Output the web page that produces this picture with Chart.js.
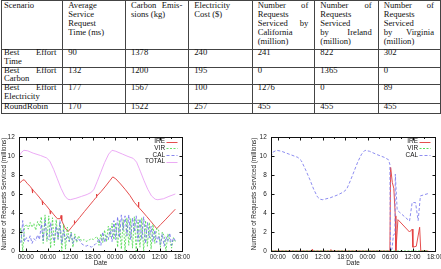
<!DOCTYPE html>
<html><head><meta charset="utf-8">
<script src="https://cdn.jsdelivr.net/npm/chart.js@4.4.0/dist/chart.umd.min.js"></script>
<style>
html,body{margin:0;padding:0;background:#fff;width:441px;height:269px;overflow:hidden;}
#tbl{position:absolute;left:0;top:0;width:441px;height:115px;font-family:"Liberation Serif",serif;font-size:8.6px;color:#111;}
.hl{position:absolute;height:1px;background:#444;}
.vl{position:absolute;width:1px;background:#444;}
.cell{position:absolute;}
.cell div{white-space:nowrap;}
.cell div.j{text-align:justify;text-align-last:justify;}
.wrap{position:absolute;width:220px;height:153px;}
canvas{display:block;}
</style></head><body>
<div id="tbl"></div>
<div class="wrap" style="left:0;top:116px;"><canvas id="c1" width="220" height="153"></canvas></div>
<div class="wrap" style="left:221px;top:116px;"><canvas id="c2" width="220" height="153"></canvas></div>
<script>
// ---------- table data ----------
const tableHeader = [
  ["Scenario"],
  ["Average","Service","Request","Time (ms)"],
  ["Carbon Emis-","sions (kg)"],
  ["Electricity","Cost ($)"],
  ["Number of","Requests","Serviced by","California","(million)"],
  ["Number of","Requests","Serviced","by Ireland","(million)"],
  ["Number of","Requests","Serviced","by Virginia","(million)"]
];
const scenarioNames = [["Best Effort","Time"],["Best Effort","Carbon"],["Best Effort","Electricity"],["RoundRobin"]];
const avgTime      = [90, 132, 177, 170];
const carbonKg     = [1378, 1200, 1567, 1522];
const elecCost     = [240, 195, 100, 257];
const reqCalifornia= [241, 0, 1276, 455];
const reqIreland   = [822, 1365, 0, 455];
const reqVirginia  = [302, 0, 89, 455];
const justified = ["Best Effort","Number of","Carbon Emis-","Serviced by","by Ireland","by Virginia"];

// ---------- chart data (hours from 00:00 of day 1) ----------
const xTickLabels = ["00:00","06:00","12:00","18:00","00:00","06:00","12:00","18:00"];
const xTickHours  = [0, 6, 12, 18, 24, 30, 36, 42];

const ireHoursL = [-1.8,-0.8,-0.4,0.5,1.2,1.7,1.8,1.9,2.8,3.6,4.4,4.5,4.6,5.5,6.5,6.6,6.7,7.6,8.5,9.3,9.5,9.7,10.5,11.4,12.2,13.0,13.1,13.25,14.5,15.8,17.0,18.2,18.9,19.0,19.15,20.3,21.5,22.6,23.4,24.2,25.5,26.8,28.0,29.2,30.2,30.3,30.4,31.5,32.5,33.5,34.4,35.2,36.3,37.5,38.8,40.2];
const ireValuesL= [7.1,7.45,7.5,7.08,6.8,6.53,6.1,6.45,6.05,5.68,5.28,4.85,5.2,4.8,4.3,3.9,4.25,3.8,3.4,3.4,3.75,3.2,2.47,2.05,2.43,2.82,3.2,2.92,3.53,4.16,4.73,5.3,5.64,6.0,5.76,6.27,6.84,7.4,7.8,7.6,7.05,6.45,5.85,5.12,4.66,5.15,4.6,4.1,3.64,3.18,2.75,2.35,2.8,3.28,3.82,4.4];

const sampleHours = [-1.8,-1.3,-0.8,-0.3,0.2,0.7,1.2,1.7,2.2,2.7,3.2,3.7,4.2,4.7,5.2,5.7,6.2,6.7,7.2,7.7,8.2,8.7,9.2,9.7,10.2,10.7,11.2,11.7,12.2,12.7,13.2,13.7,14.2,14.7,15.2,15.7,16.2,16.7,17.2,17.7,18.2,18.7,19.2,19.7,20.2,20.7,21.2,21.7,22.2,22.7,23.2,23.7,24.2,24.7,25.2,25.7,26.2,26.7,27.2,27.7,28.2,28.7,29.2,29.7,30.2,30.7,31.2,31.7,32.2,32.7,33.2,33.7,34.2,34.7,35.2,35.7,36.2,36.7,37.2,37.7,38.2,38.7,39.2,39.7,40.2];
const virValuesL = [1.5,2.4,0.0,2.6, 2.8,2.3,3.0,2.5,2.9,2.2,3.1,2.6, 3.6,0.8,3.8,1.0,3.7,0.3,3.5,0.6,3.3,1.2,3.0,0.0,2.8,0.2,2.5, 1.0,2.0,0.4,1.8,0.9,1.6,1.2, 1.1,1.2,1.0,1.1,1.2,1.3,1.2,1.4,1.5, 0.6,1.8,0.9,2.2,1.0,2.6,1.5,2.9, 1.2,3.0,0.4,3.2,0.2,3.3,0.0,3.5,0.6,3.4,0.3,3.6,0.0,3.3, 0.4,3.5,0.0,3.2,0.5,3.0,0.2,2.8,0.8,2.4, 2.2,0.4,2.0,1.6,0.0,1.8,1.2,0.3,1.4,1.0];
const calValuesL = [1.2,0.8,3.2,1.0, 1.4,1.0,1.6,0.8,1.3,1.1,1.7,1.2, 2.8,1.1,3.3,1.4,1.2,3.0,1.5,1.0,2.6,1.3,3.2,0.8,2.2,1.2,1.6, 1.0,1.9,0.8,1.5,1.1,1.3,1.0, 0.7,0.6,0.5,0.6,0.5,0.4,0.6,0.7,0.9, 1.3,0.6,2.0,0.9,1.6,1.2,2.4,1.0, 3.2,1.2,3.6,1.4,3.8,2.2,3.7,1.6,3.8,1.2,3.5,2.0,3.7,1.0, 3.4,1.2,3.6,0.8,3.0,1.4,2.6,1.0,2.2,0.9, 1.6,0.7,1.8,0.5,1.5,1.0,1.9,0.6,1.4,1.1];

const totalHoursL  = [-1.8,-1.2,-0.5,0.5,2.0,4.0,5.6,6.5,7.5,8.5,9.5,10.5,11.3,12.0,13.5,15.0,16.5,17.5,18.3,19.2,20.2,21.2,22.3,23.2,24.2,26.0,27.5,28.9,29.8,30.8,31.8,32.8,33.8,34.8,35.5,37.0,38.5,40.2];
const totalValuesL = [9.95,10.35,10.6,10.55,10.3,10.05,9.8,9.45,8.6,7.6,6.6,5.8,5.45,5.4,5.55,5.75,5.95,6.15,6.45,7.3,8.3,9.3,10.2,10.6,10.5,10.2,9.95,9.75,9.35,8.4,7.4,6.5,5.8,5.45,5.4,5.5,5.75,6.0];

const ireHoursR  = [-1.8,9.1,9.2,9.3,14.1,14.2,14.3,29.95,30.15,30.6,31.0,31.4,31.55,32.1,35.2,35.9,36.1,37.0,37.9,38.2,40.2];
const ireValuesR = [0,0,0.15,0,0,0.15,0,0,8.8,7.2,6.6,3.7,0,3.3,2.0,2.3,0.4,0.5,2.5,0,0];
const virHoursR  = [-1.8,40.2];
const virValuesR = [0,0];
const calHoursR  = [-1.8,-1.3,-0.3,1.0,3.0,5.4,6.3,7.5,8.6,9.6,10.6,11.3,12.0,14.0,16.0,17.5,18.4,19.4,20.4,21.4,22.4,23.3,24.5,26.5,28.5,29.6,29.95,30.1,30.5,30.9,31.3,31.4,31.9,35.2,35.9,36.8,37.5,38.1,40.2];
const calValuesR = [9.9,10.4,10.6,10.5,10.2,9.85,9.5,8.5,7.5,6.5,5.7,5.45,5.4,5.6,5.9,6.2,6.5,7.4,8.4,9.4,10.2,10.6,10.5,10.15,9.85,9.6,9.1,0,0.2,1.7,1.8,8.1,4.3,3.15,5.1,5.1,3.2,5.8,6.05];

// ---------- table ----------
(function buildTable(){
  const tbl = document.getElementById('tbl');
  const colX = [1, 62.3, 125, 188.3, 251.7, 314.3, 377.7, 440];
  const rowY = [0, 49.3, 66.7, 84.3, 102.7, 112.7];
  rowY.forEach(y => { const d = document.createElement('div'); d.className='hl'; d.style.left=colX[0]+'px'; d.style.width=(colX[7]-colX[0]+1)+'px'; d.style.top=y+'px'; tbl.appendChild(d); });
  colX.forEach(x => { const d = document.createElement('div'); d.className='vl'; d.style.left=x+'px'; d.style.top=rowY[0]+'px'; d.style.height=(rowY[5]-rowY[0]+1)+'px'; tbl.appendChild(d); });
  function cell(c, top, lh, lines){
    const padL = c === 0 ? 3 : 6, padR = 6;
    const el = document.createElement('div'); el.className='cell';
    el.style.left = (colX[c]+padL)+'px'; el.style.top = top+'px';
    el.style.width = (colX[c+1]-colX[c]-padL-padR)+'px'; el.style.lineHeight = lh+'px';
    lines.forEach(t => { const l = document.createElement('div'); l.textContent = t; if (justified.includes(t)) l.className='j'; el.appendChild(l); });
    tbl.appendChild(el);
  }
  tableHeader.forEach((lines, c) => cell(c, 0.6, 9.1, lines));
  for (let r = 0; r < 4; r++) {
    const top = rowY[r+1] - 1.1;
    const vals = [scenarioNames[r], [String(avgTime[r])], [String(carbonKg[r])], [String(elecCost[r])], [String(reqCalifornia[r])], [String(reqIreland[r])], [String(reqVirginia[r])]];
    vals.forEach((lines, c) => cell(c, top, 8.8, lines));
  }
})();

// ---------- charts ----------
Chart.defaults.font.family = '"Liberation Sans", Arial, sans-serif';
Chart.defaults.color = '#222';
const FS = 6.4;

const framePlugin = {
  id: 'gframe',
  afterDatasetsDraw(chart) {
    const {ctx, chartArea: a, scales: {x, y}} = chart;
    ctx.save();
    ctx.setLineDash([]);
    ctx.strokeStyle = '#111'; ctx.lineWidth = 1;
    const L = Math.round(a.left)+0.5, R = Math.round(a.right)+0.5, T = Math.round(a.top)+0.5, B = Math.round(a.bottom)+0.5;
    ctx.strokeRect(L, T, R-L, B-T);
    ctx.beginPath();
    x.ticks.forEach(t => {
      const px = Math.round(x.getPixelForValue(t.value))+0.5;
      ctx.moveTo(px,B); ctx.lineTo(px,B-3); ctx.moveTo(px,T); ctx.lineTo(px,T+3);
      const pm = Math.round(x.getPixelForValue(t.value+3))+0.5;
      if (t.value + 3 < x.max) { ctx.moveTo(pm,B); ctx.lineTo(pm,B-1.5); ctx.moveTo(pm,T); ctx.lineTo(pm,T+1.5); }
    });
    y.ticks.forEach(t => {
      const py = Math.round(y.getPixelForValue(t.value))+0.5;
      ctx.moveTo(L,py); ctx.lineTo(L+3,py); ctx.moveTo(R,py); ctx.lineTo(R-3,py);
    });
    ctx.stroke();
    ctx.restore();
  }
};
const keyPlugin = {
  id: 'gkey',
  afterDatasetsDraw(chart) {
    const {ctx, chartArea: a} = chart;
    ctx.save();
    ctx.font = FS + 'px "Liberation Sans", Arial, sans-serif';
    ctx.textAlign = 'right'; ctx.textBaseline = 'middle';
    chart.data.datasets.forEach((ds, i) => {
      const yy = a.top + 4.5 + i * 6.7;
      ctx.fillStyle = '#111';
      ctx.fillText(ds.label, a.right - 17, yy);
      ctx.strokeStyle = ds.borderColor; ctx.lineWidth = ds.borderWidth;
      ctx.setLineDash(ds.borderDash || []);
      ctx.beginPath(); ctx.moveTo(a.right - 15.5, Math.round(yy)+0.5); ctx.lineTo(a.right - 4.5, Math.round(yy)+0.5); ctx.stroke();
    });
    ctx.restore();
  }
};

function pts(hs, vs){ return hs.map((h, i) => ({x: h, y: vs[i]})); }
function ds(label, hs, vs, color, dash, order, w){
  return {label, data: pts(hs, vs), borderColor: color, borderWidth: w || 0.9, borderDash: dash, pointRadius: 0, tension: 0, fill: false, order};
}
function makeChart(id, datasets, pad, yWidth){
  return new Chart(document.getElementById(id), {
    type: 'line',
    data: {datasets},
    options: {
      responsive: false, animation: false, devicePixelRatio: 1,
      layout: {padding: pad},
      plugins: {legend: {display: false}, tooltip: {enabled: false}},
      scales: {
        x: {
          type: 'linear', min: -1.8, max: 42,
          grid: {display: false, drawTicks: false}, border: {display: false},
          afterBuildTicks: s => { s.ticks = xTickHours.map(v => ({value: v})); },
          afterFit: s => { s.height = 18; s.paddingLeft = 0; s.paddingRight = 0; },
          ticks: {autoSkip: false, maxRotation: 0, minRotation: 0, padding: 2.5, font: {size: FS}, color: '#222',
                  callback: (v, i) => xTickLabels[i]},
          title: {display: true, text: 'Date', font: {size: FS}, color: '#222', padding: {top: 0, bottom: 1.7}}
        },
        y: {
          min: 0, max: 12,
          grid: {display: false, drawTicks: false}, border: {display: false},
          afterFit: s => { s.width = yWidth; s.paddingTop = 0; s.paddingBottom = 0; },
          ticks: {stepSize: 2, padding: 4.3, font: {size: FS}, color: '#222'},
          title: {display: true, text: 'Number of Requests Serviced (millions)', font: {size: FS}, color: '#222', padding: {top: 0, bottom: 0}}
        }
      }
    },
    plugins: [framePlugin, keyPlugin]
  });
}

const RED = '#e23a3a', GREEN = '#45d845', BLUE = '#6a6aea', MAG = '#eaa2f4';
makeChart('c1', [
  ds('IRE', ireHoursL, ireValuesL, RED, [], 4),
  ds('VIR', sampleHours, virValuesL, GREEN, [2, 1.5], 3, 0.8),
  ds('CAL', sampleHours, calValuesL, BLUE, [3, 2], 2, 0.8),
  ds('TOTAL', totalHoursL, totalValuesL, MAG, [], 1)
], {left: 0, top: 21, right: 38, bottom: 0}, 19);

makeChart('c2', [
  ds('IRE', ireHoursR, ireValuesR, RED, [], 3),
  ds('VIR', virHoursR, virValuesR, GREEN, [2, 1.5], 2),
  ds('CAL', calHoursR, calValuesR, '#8080ee', [3, 2], 1)
], {left: 29, top: 21, right: 6, bottom: 0}, 21);
</script>
</body></html>
